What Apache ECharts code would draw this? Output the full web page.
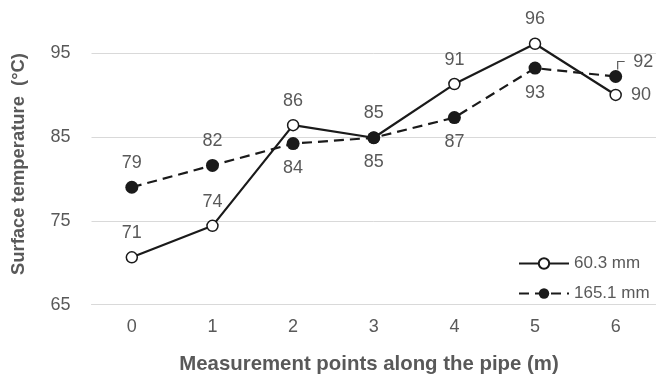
<!DOCTYPE html>
<html>
<head>
<meta charset="utf-8">
<script src="https://cdn.jsdelivr.net/npm/echarts@6/dist/echarts.min.js"></script>
<style>html,body{margin:0;padding:0;background:#fff;}#c{width:656px;height:376px;}</style>
</head>
<body>
<div id="c"></div>
<script>
const categories = ['0', '1', '2', '3', '4', '5', '6'];
const seriesNames = ['60.3 mm', '165.1 mm'];
const temp60 = [70.65, 74.4, 86.4, 84.9, 91.3, 96.1, 90.0];
const temp165 = [79.0, 81.6, 84.2, 84.9, 87.3, 93.2, 92.2];
const yTicks = [65, 75, 85, 95];

const FONT = '"Liberation Sans", Arial, sans-serif';
const GREY = '#595959';
const INK = '#1a1a1a';

const pos60 = ['top', 'top', 'top', 'top', 'top', 'top', 'right'];
const pos165 = ['top', 'top', 'bottom', 'bottom', 'bottom', 'bottom', 'right'];

function mkData(vals, posArr) {
  return vals.map((v, i) => ({ value: v, label: { position: posArr[i], distance: 9 } }));
}

const chart = echarts.init(document.getElementById('c'), null, { renderer: 'canvas' });
chart.setOption({
  animation: false,
  backgroundColor: '#fff',
  grid: { left: 91.5, top: 53, width: 567.5, height: 251.7, containLabel: false },
  xAxis: {
    type: 'category',
    data: categories,
    boundaryGap: true,
    axisLine: { show: true, lineStyle: { color: '#d9d9d9', width: 1 } },
    axisTick: { show: false },
    axisLabel: { color: GREY, fontSize: 18, fontFamily: FONT, margin: 13 },
    splitLine: { show: false }
  },
  yAxis: {
    type: 'value',
    min: yTicks[0],
    max: yTicks[yTicks.length - 1],
    interval: 10,
    axisLine: { show: false },
    axisTick: { show: false },
    axisLabel: { color: GREY, fontSize: 18, fontFamily: FONT, margin: 21 },
    splitLine: { show: true, lineStyle: { color: '#d9d9d9', width: 1 } }
  },
  legend: {
    orient: 'vertical',
    left: 513,
    top: 250,
    itemWidth: 50,
    itemHeight: 13,
    itemGap: 13,
    textStyle: { color: GREY, fontSize: 17, fontFamily: FONT },
    data: seriesNames
  },
  graphic: [
    {
      type: 'text',
      x: 19, y: 164,
      rotation: Math.PI / 2,
      style: {
        text: 'Surface temperature  (°C)',
        fill: GREY,
        font: 'bold 18.4px ' + FONT,
        textAlign: 'center',
        textVerticalAlign: 'middle'
      }
    },
    {
      type: 'text',
      x: 369, y: 364,
      style: {
        text: 'Measurement points along the pipe (m)',
        fill: GREY,
        font: 'bold 20.4px ' + FONT,
        textAlign: 'center',
        textVerticalAlign: 'middle'
      }
    }
  ],
  series: [
    {
      name: seriesNames[0],
      type: 'line',
      data: mkData(temp60, pos60),
      clip: false,
      symbol: 'circle',
      symbolSize: 11,
      lineStyle: { color: INK, width: 2.2 },
      itemStyle: { color: '#ffffff', borderColor: INK, borderWidth: 1.5 },
      label: {
        show: true,
        color: GREY,
        fontSize: 18,
        fontFamily: FONT,
        formatter: p => Math.round(p.value)
      },
      z: 2
    },
    {
      name: seriesNames[1],
      type: 'line',
      data: mkData(temp165, pos165),
      clip: false,
      symbol: 'circle',
      symbolSize: 13,
      lineStyle: { color: INK, width: 2.2, type: [10, 6] },
      itemStyle: { color: INK, borderColor: INK, borderWidth: 0 },
      label: {
        show: true,
        color: GREY,
        fontSize: 18,
        fontFamily: FONT,
        formatter: p => Math.round(p.value)
      },
      labelLayout: function (params) {
        if (params.dataIndex === 6) return { dx: 2, dy: -14 };
        return {};
      },
      z: 3
    }
  ]
});

// leader line for the last point of the 165.1 mm series, placed through the chart's own scales
const last = temp165.length - 1;
const pt = chart.convertToPixel({ seriesIndex: 1 }, [last, temp165[last]]);
chart.setOption({
  graphic: [
    {
      id: 'leader',
      type: 'polyline',
      shape: { points: [[pt[0] + 2, pt[1] - 7], [pt[0] + 2, pt[1] - 15], [pt[0] + 9, pt[1] - 15]] },
      style: { stroke: GREY, lineWidth: 1.2, fill: null },
      z: 10
    }
  ]
});
</script>
</body>
</html>
